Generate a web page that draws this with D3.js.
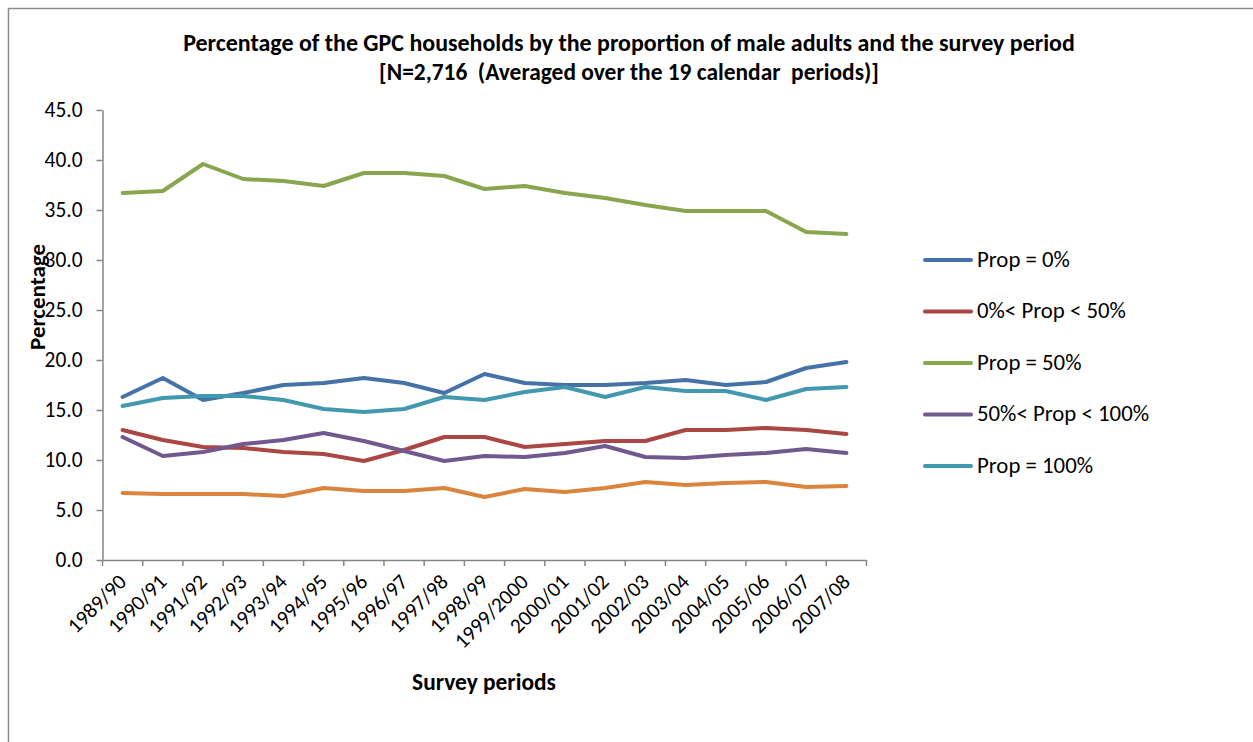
<!DOCTYPE html>
<html><head><meta charset="utf-8">
<script src="https://cdn.jsdelivr.net/npm/d3@7"></script>
<style>
body{margin:0;background:#fff;}
text{font-family:Carlito,Calibri,Lato,"Open Sans",sans-serif;fill:#000;}
</style></head>
<body><svg id="c" width="1253" height="742"></svg>
<script>
const categories = ["1989/90","1990/91","1991/92","1992/93","1993/94","1994/95","1995/96","1996/97","1997/98","1998/99","1999/2000","2000/01","2001/02","2002/03","2003/04","2004/05","2005/06","2006/07","2007/08"];
const prop0 =      [16.3,18.2,16.0,16.7,17.5,17.7,18.2,17.7,16.7,18.6,17.7,17.5,17.5,17.7,18.0,17.5,17.8,19.2,19.8];
const prop0to50 =  [13.0,12.0,11.3,11.2,10.8,10.6,9.9,11.0,12.3,12.3,11.3,11.6,11.9,11.9,13.0,13.0,13.2,13.0,12.6];
const prop50 =     [36.7,36.9,39.6,38.1,37.9,37.4,38.7,38.7,38.4,37.1,37.4,36.7,36.2,35.5,34.9,34.9,34.9,32.8,32.6];
const prop50to100 =[12.3,10.4,10.8,11.6,12.0,12.7,11.9,10.9,9.9,10.4,10.3,10.7,11.4,10.3,10.2,10.5,10.7,11.1,10.7];
const prop100 =    [15.4,16.2,16.4,16.4,16.0,15.1,14.8,15.1,16.3,16.0,16.8,17.3,16.3,17.3,16.9,16.9,16.0,17.1,17.3];
const unlabelled = [6.7,6.6,6.6,6.6,6.4,7.2,6.9,6.9,7.2,6.3,7.1,6.8,7.2,7.8,7.5,7.7,7.8,7.3,7.4];
const yTicks = [0,5,10,15,20,25,30,35,40,45];

const series = [
  {name:"Prop = 0%", values:prop0, color:"#4572A7", legend:true},
  {name:"0%< Prop < 50%", values:prop0to50, color:"#AA4643", legend:true},
  {name:"Prop = 50%", values:prop50, color:"#89A54E", legend:true},
  {name:"50%< Prop < 100%", values:prop50to100, color:"#71588F", legend:true},
  {name:"Prop = 100%", values:prop100, color:"#4198AF", legend:true},
  {name:"", values:unlabelled, color:"#DB843D", legend:false}
];

const svg = d3.select("#c");
svg.append("rect").attr("x",8.5).attr("y",8.5).attr("width",1260).attr("height",750)
  .attr("fill","#fff").attr("stroke","#8c8c8c").attr("stroke-width",1.5);

// size helper: font size so that a sample string reaches a target width
function sizeFor(sample, width, bold){
  const t = svg.append("text").attr("font-size",20).attr("font-weight",bold?"bold":"normal").text(sample);
  const L = t.node().getComputedTextLength(); t.remove(); return 20*width/L;
}
const fsTick = sizeFor("45.0", 38, false);
const fsX = sizeFor("1990/91", 73, false);
const fsLeg = sizeFor("Prop = 0%", 93, false);
const fsYT = sizeFor("Percentage", 106, true);
const fsXT = sizeFor("Survey periods", 144, true);

const pL=102.5, pR=866.5, pT=110, pB=560;
const x = d3.scaleBand().domain(categories).range([pL,pR]);
const y = d3.scaleLinear().domain([0,45]).range([pB,pT]);
const axisColor="#868686";

// y axis
const ya = svg.append("g").attr("transform",`translate(${pL},0)`)
  .call(d3.axisLeft(y).tickValues(yTicks).tickFormat(d3.format(".1f")).tickSize(6).tickSizeOuter(0));
ya.attr("font-family",null).attr("font-size",null);
ya.select(".domain").attr("stroke",axisColor).attr("stroke-width",1.5);
ya.selectAll(".tick line").attr("stroke",axisColor).attr("stroke-width",1.5);
ya.selectAll(".tick text").attr("x",-20).attr("font-size",fsTick).attr("fill","#000");

// x axis
const xa = svg.append("g").attr("transform",`translate(0,${pB})`)
  .call(d3.axisBottom(x).tickSize(0).tickFormat(""));
xa.attr("font-family",null).attr("font-size",null);
xa.select(".domain").attr("stroke",axisColor).attr("stroke-width",1.5);
const bounds = d3.range(categories.length+1).map(i=> pL + i*x.step());
xa.selectAll("line.b").data(bounds).enter().append("line").attr("class","b")
  .attr("x1",d=>d).attr("x2",d=>d).attr("y1",0).attr("y2",6)
  .attr("stroke",axisColor).attr("stroke-width",1.5);
xa.selectAll("text.lab").data(categories).enter().append("text").attr("class","lab")
  .attr("text-anchor","end").attr("font-size",fsX)
  .attr("transform",d=>`translate(${x(d)+x.bandwidth()/2+5},${23}) rotate(-45)`)
  .text(d=>d);

// lines
const line = d3.line().x((d,i)=>x(categories[i])+x.bandwidth()/2).y(d=>y(d));
svg.append("g").selectAll("path").data(series).enter().append("path")
  .attr("d",d=>line(d.values)).attr("fill","none").attr("stroke",d=>d.color)
  .attr("stroke-width",4).attr("stroke-linejoin","round").attr("stroke-linecap","round");

// legend
const leg = series.filter(s=>s.legend);
const lg = svg.append("g");
leg.forEach((s,i)=>{
  const yy = 260 + i*51.5;
  lg.append("line").attr("x1",925).attr("x2",971).attr("y1",yy).attr("y2",yy)
    .attr("stroke",s.color).attr("stroke-width",4).attr("stroke-linecap","round");
  lg.append("text").attr("x",977).attr("y",yy+6.5).attr("font-size",fsLeg).text(s.name);
});

// titles
function fit(t, w){ const L=t.node().getComputedTextLength(); const fs=+t.attr("font-size"); t.attr("font-size", fs*w/L); }
const t1 = svg.append("text").attr("x",629).attr("y",51).attr("text-anchor","middle").attr("font-weight","bold")
  .attr("font-size",17).text("Percentage of the GPC households by the proportion of male adults and the survey period");
fit(t1, 892);
const t2 = svg.append("text").attr("x",629).attr("y",80).attr("text-anchor","middle").attr("font-weight","bold")
  .attr("font-size",17).style("white-space","pre").text("[N=2,716  (Averaged over the 19 calendar  periods)]");
fit(t2, 500);
svg.append("text").attr("transform","translate(45,297) rotate(-90)").attr("text-anchor","middle")
  .attr("font-weight","bold").attr("font-size",fsYT).text("Percentage");
svg.append("text").attr("x",484).attr("y",690).attr("text-anchor","middle")
  .attr("font-weight","bold").attr("font-size",fsXT).text("Survey periods");
</script></body></html>
